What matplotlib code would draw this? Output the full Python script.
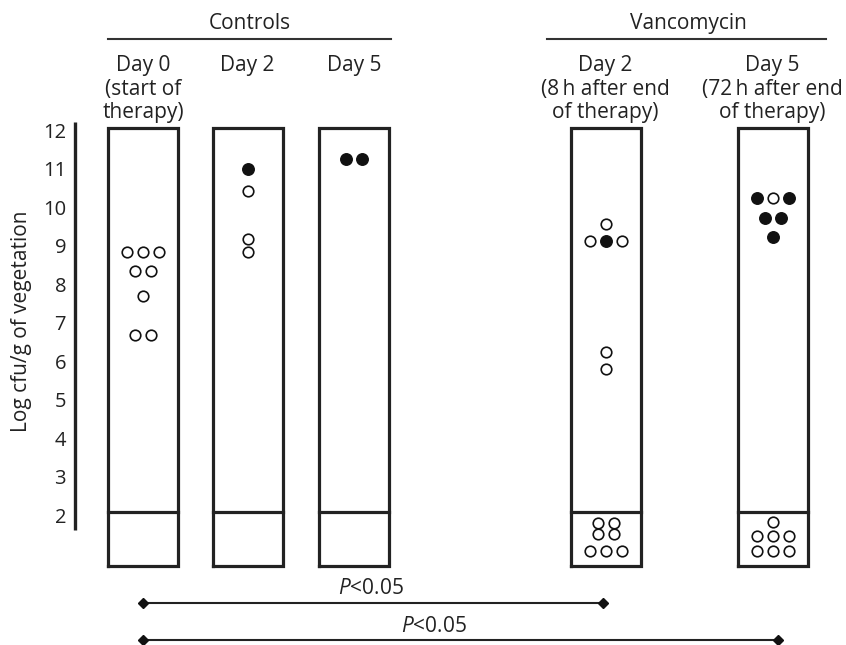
import matplotlib.pyplot as plt

plt.rcParams['font.family'] = ['Open Sans', 'DejaVu Sans']
plt.rcParams['mathtext.fontset'] = 'custom'
plt.rcParams['mathtext.it'] = 'Open Sans:italic'
plt.rcParams['mathtext.rm'] = 'Open Sans'

# each column: rows of (log cfu/g, marks) ; 'o' = open circle, 'f' = filled
group_names = ['Controls', 'Vancomycin']
col_labels = ['Day 0\n(start of\ntherapy)', 'Day 2', 'Day 5',
              'Day 2\n(8\u2009h after end\nof therapy)',
              'Day 5\n(72\u2009h after end\nof therapy)']
col_rows = [
    [(8.90, 'ooo'), (8.42, 'oo'), (7.77, 'o'), (6.75, 'oo')],
    [(11.06, 'f'), (10.49, 'o'), (9.25, 'o'), (8.91, 'o')],
    [(11.32, 'ff')],
    [(9.64, 'o'), (9.20, 'ofo'), (6.31, 'o'), (5.87, 'o'),
     (1.87, 'oo'), (1.58, 'oo'), (1.14, 'ooo')],
    [(10.31, 'fof'), (9.79, 'ff'), (9.30, 'f'),
     (1.90, 'o'), (1.53, 'ooo'), (1.14, 'ooo')],
]
yticks = [2, 3, 4, 5, 6, 7, 8, 9, 10, 11, 12]

# layout (x in pixels, y in log units)
col_x = [143, 247.5, 354, 605.5, 772.5]
box_w = 70
box_top, box_div, box_bot = 12.13, 2.16, 0.75
dx = 16
fs = 15

fig = plt.figure(figsize=(8.46, 6.45), dpi=100)
ax = fig.add_axes([0, 0, 1, 1])
ax.set_xlim(0, 846)
ax.set_ylim(-1.30, 15.45)
ax.axis('off')

# y axis
ax.plot([75, 75], [1.69, 12.29], color='#222222', lw=2.4, solid_capstyle='butt')
for t in yticks:
    ax.text(66, t, str(t), ha='right', va='center', fontsize=14.5, color='#222222')
ax.text(22, 7.1, 'Log cfu/g of vegetation', rotation=90, ha='center', va='center',
        fontsize=fs, color='#222222')

# boxes
for cx in col_x:
    x0, x1 = cx - box_w / 2, cx + box_w / 2
    ax.plot([x0, x1, x1, x0, x0], [box_bot, box_bot, box_top, box_top, box_bot],
            color='#222222', lw=2.3, solid_joinstyle='miter')
    ax.plot([x0, x1], [box_div, box_div], color='#222222', lw=2.3)

# dots
for cx, rows in zip(col_x, col_rows):
    for val, marks in rows:
        n = len(marks)
        for i, m in enumerate(marks):
            x = cx + (i - (n - 1) / 2) * dx
            if m == 'f':
                ax.plot(x, val, 'o', ms=8.3, mfc='#111111', mec='#111111', mew=1)
            else:
                ax.plot(x, val, 'o', ms=7.6, mfc='white', mec='#111111', mew=1.2)

# headers
ax.text(250, 14.85, group_names[0], ha='center', va='center', fontsize=fs, color='#222222')
ax.plot([108, 391], [14.44, 14.44], color='#333333', lw=1.5)
ax.text(688, 14.85, group_names[1], ha='center', va='center', fontsize=fs, color='#222222')
ax.plot([547, 826], [14.44, 14.44], color='#333333', lw=1.5)
for cx, lab in zip(col_x, col_labels):
    ax.text(cx, 14.03, lab, ha='center', va='top', fontsize=fs, color='#222222',
            linespacing=1.18)

# significance bars
for x0, x1, yl, ty, tx in [(143, 603, -0.21, 0.16, 371), (143, 778, -1.17, -0.82, 434)]:
    ax.plot([x0, x1], [yl, yl], color='#222222', lw=1.5, marker='D', ms=5,
            mfc='#111111', mec='#111111')
    ax.text(tx, ty, r'$\mathit{P}$' + '<0.05', ha='center', va='center',
            fontsize=fs, color='#222222')

fig.savefig('out.png', dpi=100)
